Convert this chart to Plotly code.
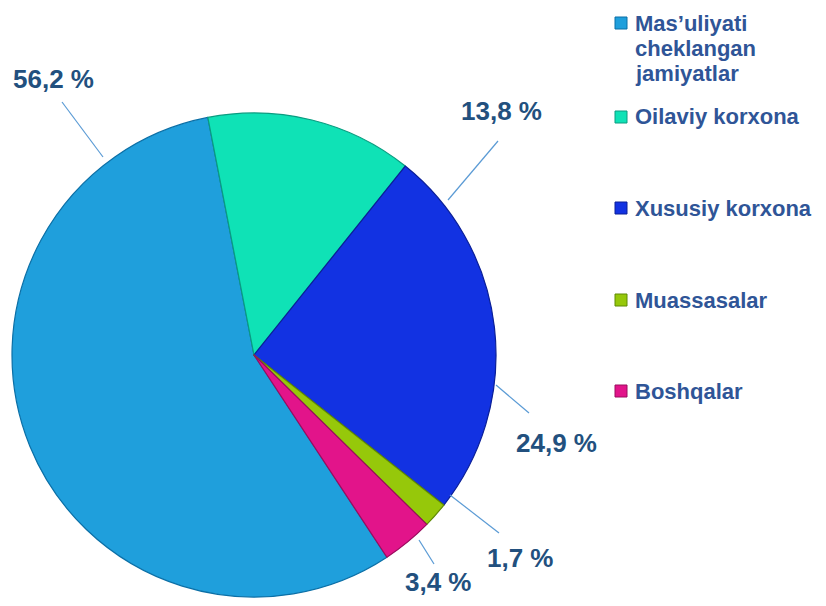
import plotly.graph_objects as go

# ---- data ----
categories = ["Mas\u2019uliyati<br>cheklangan<br>jamiyatlar", "Oilaviy korxona",
              "Xususiy korxona", "Muassasalar", "Boshqalar"]
values = [56.2, 13.8, 24.9, 1.7, 3.4]
value_labels = ["56,2 %", "13,8 %", "24,9 %", "1,7 %", "3,4 %"]

# ---- styling / layout (screen pixels of the 826x606 window) ----
colors = ["#1f9fdc", "#0fe2b6", "#1232e2", "#96c80a", "#e2148a"]
edge_colors = ["#0b6fa6", "#0a9c80", "#0a1f98", "#5f8a05", "#9a0c5e"]
OFF = 8                      # page body margin
W, H = 826 - 2 * OFF, 606 - 2 * OFF
cx, cy, R = 254, 355, 242
leader = [((62, 102), (103, 157)),
          ((498, 141), (448, 200)),
          ((529, 413), (496, 385)),
          ((499, 533), (450, 495)),
          ((434, 564), (419, 540))]
label_xy = [(53, 79), (501, 111), (556, 443), (520, 558), (438, 582)]
legend_y = [23, 117, 208, 300, 391]
line_gap = 25
legend_x_marker, legend_x_text = 615, 633


def px(x):
    return (x - OFF) / W


def py(y):
    return min(1.0, max(0.0, 1 - (y - OFF) / H))


# start angle so that the first slice ends at -11 deg (clockwise from 12 o'clock)
rotation = -11 - values[0] / sum(values) * 360 + 360
rotation = ((rotation + 180) % 360) - 180

fig = go.Figure()
fig.add_trace(go.Pie(
    labels=categories, values=values, sort=False, direction="clockwise",
    rotation=rotation, textinfo="none", hoverinfo="label+percent",
    marker=dict(colors=colors, line=dict(color=edge_colors, width=1.2)),
    domain=dict(x=[px(cx - R), px(cx + R)], y=[py(cy + R), py(cy - R)]),
    showlegend=False,
))

FONT = "Liberation Sans, Arial"
shapes = []
annotations = []
for (p0, p1), (tx, ty), txt in zip(leader, label_xy, value_labels):
    shapes.append(dict(type="line", xref="paper", yref="paper",
                       x0=px(p0[0]), y0=py(p0[1]), x1=px(p1[0]), y1=py(p1[1]),
                       line=dict(color="#5b9bd5", width=1.2)))
    annotations.append(dict(x=px(tx), y=py(ty), xref="paper", yref="paper",
                            text="<b>" + txt + "</b>", showarrow=False,
                            xanchor="center", yanchor="middle",
                            font=dict(family=FONT, size=26, color="#22507e")))

for name, c, ec, ly in zip(categories, colors, edge_colors, legend_y):
    shapes.append(dict(type="rect", xref="paper", yref="paper",
                       x0=px(legend_x_marker), x1=px(legend_x_marker + 12),
                       y0=py(ly - 6), y1=py(ly + 6),
                       fillcolor=c, line=dict(color=ec, width=1)))
    for k, part in enumerate(name.split("<br>")):
        annotations.append(dict(x=px(legend_x_text), y=py(ly + k * line_gap),
                                xref="paper", yref="paper",
                                text="<b>" + part + "</b>", showarrow=False,
                                xanchor="left", yanchor="middle", align="left",
                                font=dict(family=FONT, size=22, color="#2f5597")))

fig.update_layout(width=W, height=H, margin=dict(l=0, r=0, t=0, b=0),
                  paper_bgcolor="white", plot_bgcolor="white",
                  shapes=shapes, annotations=annotations, showlegend=False)
fig.write_html("out.html")
